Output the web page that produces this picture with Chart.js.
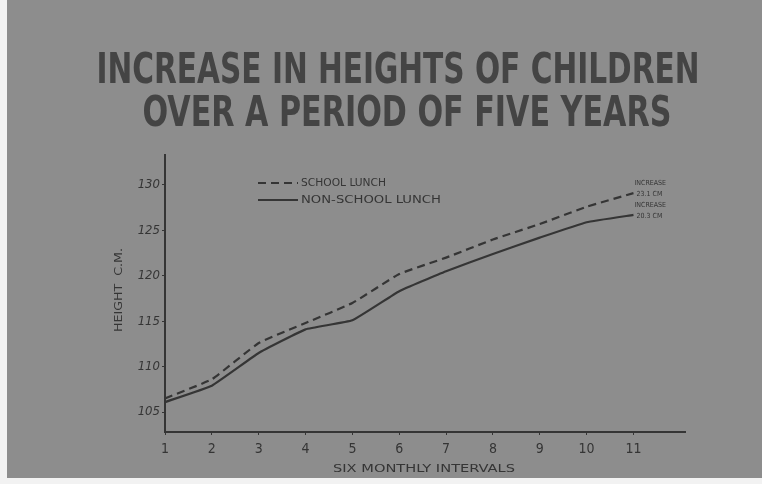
<!DOCTYPE html>
<html lang="en">
<head>
    <meta charset="UTF-8">
    <title>Increase in Heights of Children</title>
    <script src="https://cdn.jsdelivr.net/npm/chart.js@4"></script>
    <style>
        body { margin: 0; background: #f2f2f2; }
        canvas { display: block; }
    </style>
</head>
<body>
    <canvas id="heightChart" width="762" height="484"></canvas>

    <script>
        // six monthly intervals and average heights (cm)
        const intervals = [1, 2, 3, 4, 5, 6, 7, 8, 9, 10, 11];
        const schoolLunch = [106.5, 108.6, 112.6, 114.8, 117.0, 120.2, 122.0, 124.0, 125.7, 127.6, 129.1];
        const nonSchoolLunch = [106.1, 107.9, 111.5, 114.1, 115.1, 118.3, 120.5, 122.4, 124.2, 125.9, 126.7];
        const heightTicks = [105, 110, 115, 120, 125, 130];
        const seriesNames = ['SCHOOL LUNCH', 'NON-SCHOOL LUNCH'];
        const increaseNotes = [['INCREASE', '23.1 CM'], ['INCREASE', '20.3 CM']];
        const titleLines = ['INCREASE IN HEIGHTS OF CHILDREN', 'OVER A PERIOD OF FIVE YEARS'];

        const ink = '#353535';
        const paper = '#8d8d8d';
        const narrow = '"Liberation Sans Narrow", "DejaVu Sans Condensed", "Liberation Sans", sans-serif';

        function points(values) {
            return intervals.map((x, i) => ({ x: x, y: values[i] }));
        }

        // squeeze a text to a given width, like the hand lettering
        function fitText(ctx, text, x, y, width, align) {
            const w = ctx.measureText(text).width;
            ctx.save();
            ctx.translate(x, y);
            ctx.scale(width / w, 1);
            ctx.textAlign = align || 'center';
            ctx.fillText(text, 0, 0);
            ctx.restore();
        }

        const paperPlugin = {
            id: 'paper',
            beforeDraw(chart) {
                const ctx = chart.ctx;
                ctx.save();
                ctx.fillStyle = paper;
                ctx.fillRect(7, 0, chart.width - 7, chart.height - 6);
                ctx.restore();
            },
            afterDraw(chart) {
                const ctx = chart.ctx;
                const area = chart.chartArea;
                ctx.save();
                ctx.fillStyle = '#444';
                ctx.textBaseline = 'alphabetic';

                // title
                ctx.font = 'bold 42px ' + narrow;
                fitText(ctx, titleLines[0], 398, 83, 603);
                fitText(ctx, titleLines[1], 407, 126, 529);

                // axis titles
                ctx.fillStyle = ink;
                ctx.font = '11px ' + narrow;
                fitText(ctx, 'SIX MONTHLY INTERVALS', 424, 472, 182);
                ctx.save();
                ctx.translate(122, 290);
                ctx.rotate(-Math.PI / 2);
                fitText(ctx, 'HEIGHT  C.M.', 0, 0, 84);
                ctx.restore();

                // legend inside the plot
                ctx.font = '10px ' + narrow;
                const legendWidths = [85, 140];
                chart.data.datasets.forEach((ds, i) => {
                    const y = area.top + 28 + i * 17;
                    const x = area.left + 93;
                    ctx.strokeStyle = ds.borderColor;
                    ctx.lineWidth = 2;
                    ctx.setLineDash(ds.borderDash || []);
                    ctx.beginPath();
                    ctx.moveTo(x, y);
                    ctx.lineTo(x + 40, y);
                    ctx.stroke();
                    ctx.setLineDash([]);
                    ctx.textBaseline = 'middle';
                    fitText(ctx, ds.label, x + 43, y, legendWidths[i], 'left');
                });

                // increase notes at the end of each line
                ctx.font = '7px ' + narrow;
                ctx.textAlign = 'left';
                ctx.textBaseline = 'middle';
                chart.data.datasets.forEach((ds, i) => {
                    const last = chart.getDatasetMeta(i).data[intervals.length - 1];
                    ctx.fillText(increaseNotes[i][0], last.x + 1, last.y - 10);
                    ctx.fillText(increaseNotes[i][1], last.x + 3, last.y + 1);
                });
                ctx.restore();
            }
        };

        const ctx = document.getElementById('heightChart').getContext('2d');
        const chart = new Chart(ctx, {
            type: 'line',
            data: {
                datasets: [{
                    label: seriesNames[0],
                    data: points(schoolLunch),
                    borderColor: ink,
                    borderWidth: 2.2,
                    borderDash: [8, 5],
                    pointRadius: 0,
                    tension: 0.1
                }, {
                    label: seriesNames[1],
                    data: points(nonSchoolLunch),
                    borderColor: ink,
                    borderWidth: 2.2,
                    pointRadius: 0,
                    tension: 0.1
                }]
            },
            options: {
                responsive: false,
                animation: false,
                layout: { padding: { left: 125, right: 77, top: 155, bottom: 2 } },
                plugins: {
                    legend: { display: false },
                    title: { display: false },
                    tooltip: { enabled: false }
                },
                scales: {
                    x: {
                        type: 'linear',
                        min: 1,
                        max: 12.1,
                        afterBuildTicks: axis => { axis.ticks = intervals.map(v => ({ value: v })); },
                        afterFit: axis => { axis.height = 50; },
                        border: { color: ink, width: 2 },
                        grid: { drawOnChartArea: false, color: ink, tickLength: 3 },
                        ticks: { color: ink, font: { family: narrow, size: 14 }, padding: 6 }
                    },
                    y: {
                        min: 102.8,
                        max: 133.3,
                        afterBuildTicks: axis => { axis.ticks = heightTicks.map(v => ({ value: v })); },
                        afterFit: axis => { axis.width = 40; },
                        border: { color: ink, width: 2 },
                        grid: { drawOnChartArea: false, color: ink, tickLength: 3 },
                        ticks: { color: ink, font: { family: narrow, size: 13, style: 'italic' }, padding: 2 }
                    }
                }
            },
            plugins: [paperPlugin]
        });
    </script>
</body>
</html>
